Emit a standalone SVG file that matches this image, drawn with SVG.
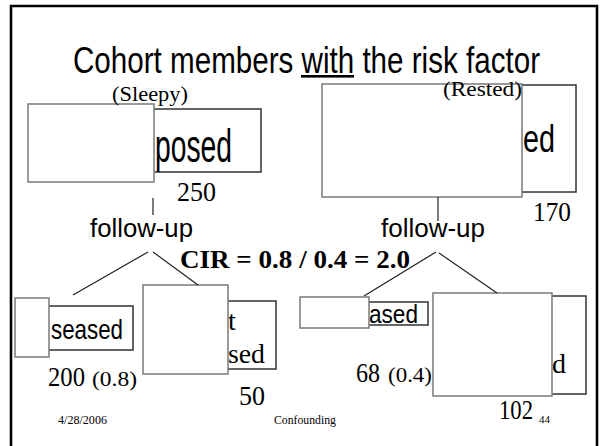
<svg xmlns="http://www.w3.org/2000/svg" width="600" height="446" viewBox="0 0 600 446">
  <style>
    .front { fill: #ffffff; stroke: #7a7a7a; stroke-width: 1.5; }
    .back { fill: #ffffff; stroke: #333333; stroke-width: 1.5; }
    .sans { font-family: "Liberation Sans", Arial, sans-serif; fill: #000; }
    .serif { font-family: "Liberation Serif", "Times New Roman", serif; fill: #000; }
    .link { stroke: #222; stroke-width: 1.2; fill: none; }
  </style>
  <rect width="600" height="446" fill="#ffffff"/>
  <!-- slide frame (open at the bottom) -->
  <path d="M11,450 V6 H597 V450" fill="none" stroke="#000" stroke-width="2.6"/>

  <!-- title -->
  <g id="title">
    <text class="sans" x="73" y="73" font-size="37" textLength="467" lengthAdjust="spacingAndGlyphs">Cohort members with the risk factor</text>
    <rect x="301" y="75" width="53" height="2.6" fill="#000"/>
  </g>

  <!-- exposed group, sleepy -->
  <g id="sleepy">
    <rect class="back" x="100" y="109" width="161" height="63"/>
    <text class="sans" x="155" y="162" font-size="46" textLength="77" lengthAdjust="spacingAndGlyphs">posed</text>
    <rect class="front" x="28" y="104" width="126" height="78"/>
    <text class="serif" x="112" y="101" font-size="22" textLength="76" lengthAdjust="spacingAndGlyphs">(Sleepy)</text>
    <text class="serif" x="177" y="201" font-size="27" textLength="39" lengthAdjust="spacingAndGlyphs">250</text>
    <text class="sans" x="90" y="237" font-size="25" textLength="103" lengthAdjust="spacingAndGlyphs">follow-up</text>
  </g>

  <!-- exposed group, rested -->
  <g id="rested">
    <rect class="back" x="420" y="85" width="156" height="107"/>
    <text class="sans" x="523" y="152" font-size="38" textLength="32" lengthAdjust="spacingAndGlyphs">ed</text>
    <rect class="front" x="322" y="84" width="200" height="113"/>
    <text class="serif" x="443" y="96" font-size="20" textLength="79" lengthAdjust="spacingAndGlyphs">(Rested)</text>
    <text class="serif" x="533" y="221" font-size="27" textLength="38" lengthAdjust="spacingAndGlyphs">170</text>
    <text class="sans" x="381" y="237" font-size="25" textLength="104" lengthAdjust="spacingAndGlyphs">follow-up</text>
  </g>

  <!-- cumulative incidence ratio -->
  <g id="cir">
    <text class="serif" x="180" y="268" font-size="26" font-weight="bold" textLength="230" lengthAdjust="spacingAndGlyphs">CIR = 0.8 / 0.4 = 2.0</text>
  </g>

  <!-- outcome boxes, sleepy -->
  <g id="sleepy-diseased">
    <rect class="back" x="40" y="306" width="93" height="44"/>
    <text class="sans" x="51" y="339" font-size="28" textLength="72" lengthAdjust="spacingAndGlyphs">seased</text>
    <rect class="front" x="15" y="298" width="34" height="59"/>
    <text class="serif" x="48" y="386" font-size="28" textLength="37" lengthAdjust="spacingAndGlyphs">200</text>
    <text class="serif" x="92" y="386" font-size="22" textLength="45" lengthAdjust="spacingAndGlyphs">(0.8)</text>
  </g>
  <g id="sleepy-not-diseased">
    <rect class="back" x="180" y="301" width="96" height="68"/>
    <text class="serif" x="228" y="330" font-size="28">t</text>
    <text class="serif" x="228" y="363" font-size="28" textLength="37" lengthAdjust="spacingAndGlyphs">sed</text>
    <rect class="front" x="143" y="285" width="85" height="89"/>
    <text class="serif" x="239" y="405" font-size="28" textLength="26" lengthAdjust="spacingAndGlyphs">50</text>
  </g>

  <!-- outcome boxes, rested -->
  <g id="rested-diseased">
    <rect class="back" x="340" y="302" width="88" height="23"/>
    <text class="sans" x="369" y="323" font-size="26" textLength="49" lengthAdjust="spacingAndGlyphs">ased</text>
    <rect class="front" x="300" y="297" width="69" height="31"/>
    <text class="serif" x="356" y="382" font-size="28" textLength="24" lengthAdjust="spacingAndGlyphs">68</text>
    <text class="serif" x="388" y="382" font-size="22" textLength="44" lengthAdjust="spacingAndGlyphs">(0.4)</text>
  </g>
  <g id="rested-not-diseased">
    <rect class="back" x="480" y="296" width="106" height="98"/>
    <text class="serif" x="552" y="373" font-size="28">d</text>
    <rect class="front" x="433" y="293" width="119" height="103"/>
    <text class="serif" x="499" y="419" font-size="28" textLength="34" lengthAdjust="spacingAndGlyphs">102</text>
  </g>

  <!-- connectors -->
  <g id="connectors">
    <line class="link" x1="153" y1="198" x2="153" y2="215"/>
    <line class="link" x1="148" y1="252" x2="73" y2="295"/>
    <line class="link" x1="153" y1="252" x2="198" y2="285"/>
    <line class="link" x1="438" y1="197" x2="438" y2="221"/>
    <line class="link" x1="436" y1="252" x2="364" y2="296"/>
    <line class="link" x1="439" y1="253" x2="497" y2="293"/>
  </g>

  <!-- footer -->
  <g id="footer">
    <text class="serif" x="58" y="424" font-size="12" textLength="49" lengthAdjust="spacingAndGlyphs">4/28/2006</text>
    <text class="serif" x="274" y="424" font-size="12" textLength="62" lengthAdjust="spacingAndGlyphs">Confounding</text>
    <text class="serif" x="539" y="423" font-size="11" textLength="11" lengthAdjust="spacingAndGlyphs">44</text>
  </g>
</svg>
